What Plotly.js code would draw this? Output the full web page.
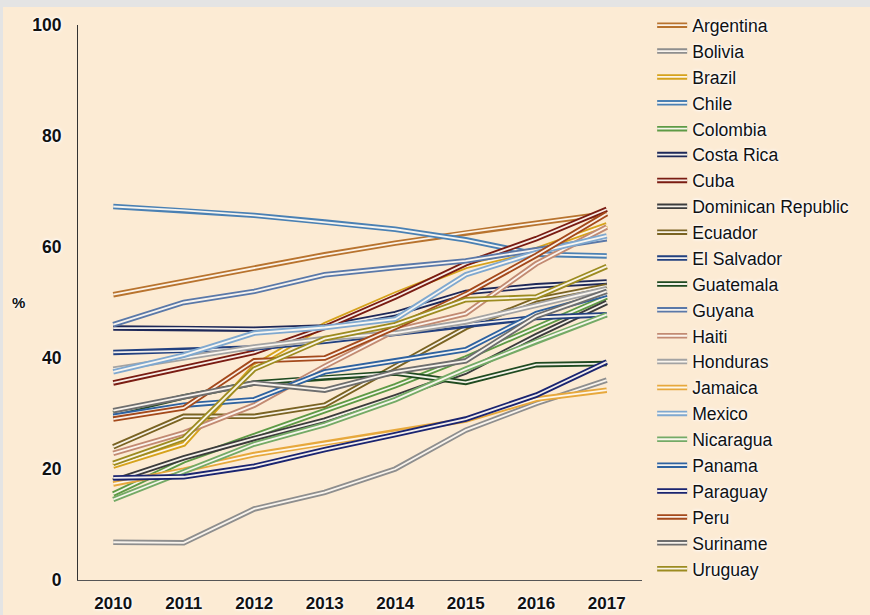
<!DOCTYPE html>
<html>
<head>
<meta charset="utf-8">
<script src="https://cdn.plot.ly/plotly-3.0.1.min.js"></script>
<style>
  html, body { margin: 0; padding: 0; background: #e4e4e4; width: 870px; height: 615px; overflow: hidden; }
  #chart { position: absolute; left: 3px; top: 7px; width: 867px; height: 608px; }
</style>
</head>
<body>
<div id="chart"></div>
<script>
const years = ['2010', '2011', '2012', '2013', '2014', '2015', '2016', '2017'];
const yTicks = [0, 20, 40, 60, 80, 100];
const countries = ['Argentina', 'Bolivia', 'Brazil', 'Chile', 'Colombia', 'Costa Rica', 'Cuba',
  'Dominican Republic', 'Ecuador', 'El Salvador', 'Guatemala', 'Guyana', 'Haiti', 'Honduras',
  'Jamaica', 'Mexico', 'Nicaragua', 'Panama', 'Paraguay', 'Peru', 'Suriname', 'Uruguay'];

const argentina  = [51.4, 53.8, 56.2, 58.6, 60.7, 62.6, 64.3, 66.0];
const bolivia    = [6.8, 6.7, 12.8, 15.8, 20.0, 27.0, 31.8, 36.0];
const brazil     = [20.5, 24.5, 38.5, 46.0, 51.5, 56.5, 59.5, 64.0];
const chile      = [67.3, 66.6, 65.7, 64.5, 63.2, 61.3, 58.7, 58.4];
const colombia   = [15.5, 21.5, 26.0, 30.5, 35.0, 40.0, 45.5, 51.0];
const costaRica  = [45.4, 45.4, 45.2, 45.6, 48.0, 51.8, 53.0, 53.7];
const cuba       = [35.5, 38.3, 41.0, 45.5, 51.0, 57.0, 61.5, 66.8];
const dominican  = [17.8, 22.0, 25.5, 28.8, 33.0, 37.5, 44.0, 50.0];
const ecuador    = [24.0, 29.5, 29.5, 31.5, 38.5, 45.5, 50.5, 53.0];
const elSalvador = [41.0, 41.3, 41.8, 43.0, 44.5, 46.0, 47.3, 47.8];
const guatemala  = [30.0, 33.0, 35.5, 36.5, 37.3, 35.6, 38.8, 39.0];
const guyana     = [46.0, 50.0, 52.0, 55.0, 56.3, 57.5, 59.5, 61.5];
const haiti      = [22.8, 26.5, 31.5, 38.5, 45.0, 48.0, 57.0, 63.6];
const honduras   = [38.0, 40.0, 42.0, 43.5, 44.5, 46.5, 49.5, 52.5];
const jamaica    = [17.3, 19.8, 22.6, 24.6, 26.6, 28.8, 32.6, 34.2];
const mexico     = [37.5, 40.5, 44.5, 45.5, 47.0, 55.0, 59.0, 62.0];
const nicaragua  = [14.5, 19.5, 24.5, 28.0, 32.5, 38.0, 43.0, 47.8];
const panama     = [29.5, 31.5, 32.5, 37.5, 39.5, 41.5, 48.0, 51.5];
const paraguay   = [18.4, 18.6, 20.5, 23.5, 26.2, 29.0, 33.3, 39.3];
const peru       = [29.0, 31.0, 39.5, 40.0, 45.5, 51.5, 58.5, 66.0];
const suriname   = [30.5, 33.0, 35.5, 34.2, 37.5, 39.5, 47.5, 52.0];
const uruguay    = [21.0, 25.5, 38.0, 43.5, 46.0, 50.5, 51.0, 56.5];

const seriesValues = [argentina, bolivia, brazil, chile, colombia, costaRica, cuba, dominican,
  ecuador, elSalvador, guatemala, guyana, haiti, honduras, jamaica, mexico, nicaragua, panama,
  paraguay, peru, suriname, uruguay];

const colors = ['#B8732E', '#8E8E8E', '#D6A21C', '#4A80B3', '#5E9A45', '#1E2858', '#7A1C12',
  '#3C3C3C', '#7A6322', '#22407F', '#1F4A20', '#5A78A8', '#C28A72', '#A3A3A3', '#E7A83C',
  '#7FA8CF', '#74AA66', '#2E62A0', '#1A2470', '#A4491B', '#6E6E6E', '#9C8B20'];

const FONT = 'Arial, "Liberation Sans", sans-serif';
const GLOW = '0px 0px 2px #ffffff, 0px 0px 3px #ffffff, 0px 0px 4px #ffffff';
const INNER = 'rgba(255,250,242,0.95)';

const traces = [];
countries.forEach((name, i) => {
  traces.push({
    type: 'scatter', mode: 'lines', x: years, y: seriesValues[i], name: name,
    line: { color: colors[i], width: 5.5 }, legend: 'legend', hoverinfo: 'skip'
  });
  traces.push({
    type: 'scatter', mode: 'lines', x: years, y: seriesValues[i], name: name,
    line: { color: INNER, width: 1.8 }, legend: 'legend2', hoverinfo: 'skip'
  });
});

const legendBase = {
  x: 1.018, xanchor: 'left', y: 1.032, yanchor: 'top',
  bgcolor: 'rgba(0,0,0,0)', borderwidth: 0, maxheight: 620,
  traceorder: 'normal', itemwidth: 30
};

const layout = {
  width: 867, height: 608,
  margin: { l: 75, r: 228, t: 18, b: 35, autoexpand: false },
  paper_bgcolor: '#FCEBD4',
  plot_bgcolor: '#FCEBD4',
  font: { family: FONT, color: '#000' },
  showlegend: true,
  xaxis: {
    type: 'category', range: [-0.5, 7.5], showgrid: false, zeroline: false,
    showline: true, linecolor: '#555555', linewidth: 1, ticks: '',
    tickfont: { family: FONT, size: 17, weight: 'bold', color: '#111', shadow: GLOW },
    ticklabelstandoff: 8
  },
  yaxis: {
    range: [0, 100], tickvals: yTicks, showgrid: false, zeroline: false,
    showline: true, linecolor: '#333333', linewidth: 1, ticks: '',
    tickfont: { family: FONT, size: 17.5, weight: 'bold', color: '#111', shadow: GLOW },
    ticklabelstandoff: 12
  },
  legend: Object.assign({}, legendBase, {
    font: { family: FONT, size: 17.6, color: '#111', shadow: GLOW }
  }),
  legend2: Object.assign({}, legendBase, {
    font: { family: FONT, size: 17.6, color: 'rgba(0,0,0,0)', shadow: 'none' }
  }),
  annotations: [{
    text: '%', xref: 'paper', yref: 'paper', x: -0.106, y: 0.5,
    xanchor: 'center', yanchor: 'middle', showarrow: false,
    font: { family: FONT, size: 15, weight: 'bold', color: '#111', shadow: GLOW }
  }]
};

Plotly.newPlot('chart', traces, layout, { displayModeBar: false, staticPlot: true });
</script>
</body>
</html>
